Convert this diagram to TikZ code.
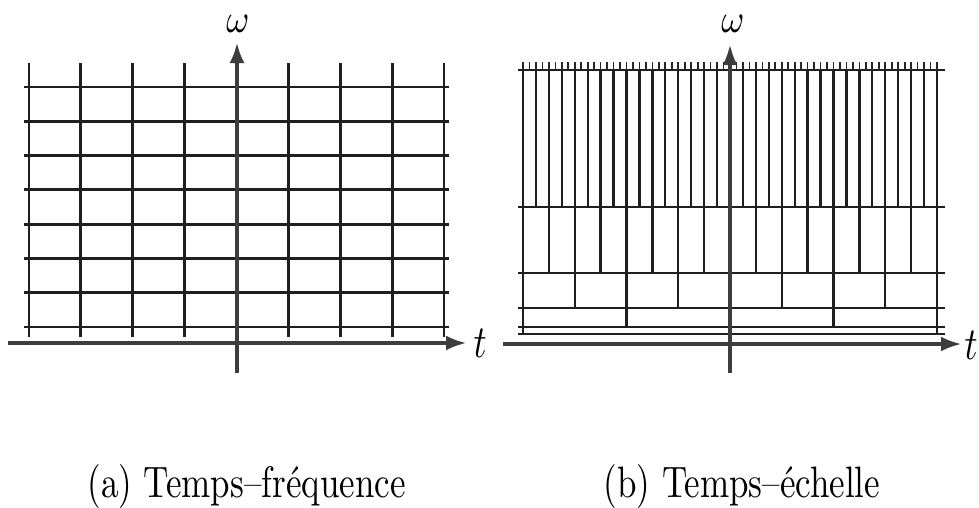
\documentclass[tikz,border=0pt]{standalone}
\usepackage{fontspec}
\usepackage{graphicx}
\usetikzlibrary{arrows.meta}
\begin{document}
\begin{tikzpicture}[x=1pt,y=-1pt,
  gridline/.style={line width=2.8pt, draw=black!88},
  thinline/.style={line width=2.3pt, draw=black!88},
  tickline/.style={line width=1.7pt, draw=black!85},
  axisline/.style={line width=4.6pt, draw=black!76, -{Latex[length=21pt,width=15pt]}},
  lbl/.style={inner sep=0pt, outer sep=0pt},
]
\useasboundingbox (0,0) rectangle (979,507);
% ---------- (a) time-frequency grid ----------
\foreach \k in {0,...,8}
  \draw[gridline] ({29+\k*51.875},63) -- ({29+\k*51.875},337);
\foreach \k in {0,...,7}
  \draw[gridline] (24,{87+\k*34.286}) -- (449,{87+\k*34.286});
\coordinate (ta0) at (8,343);
\coordinate (ta1) at (467,343);
\coordinate (wa0) at (237,373);
\coordinate (wa1) at (237,42);
\draw[axisline] (ta0) -- (ta1);
\draw[axisline] (wa0) -- (wa1);
\node[lbl] (wA) at (238,24) {\scalebox{3.5}[4.0]{$\omega$}};
\node[lbl] (tA) at (480,343) {\scalebox{3.6}[4.6]{$t$}};
\node[lbl, anchor=base] (capA) at (246.5,497)
  {\scalebox{3.5}[4.4]{(a) Temps–fréquence}};
% ---------- (b) time-scale tiling ----------
\foreach \y in {70,207,273,308,327,334}
  \draw[gridline] (518,\y) -- (945,\y);
\draw[gridline] (523,70) -- (523,334);
\draw[gridline] (937,70) -- (937,334);
\foreach \k in {1,...,31}
  \draw[thinline] ({523+\k*12.9375},70) -- ({523+\k*12.9375},207);
\foreach \k in {1,...,15}
  \draw[thinline] ({523+\k*25.875},207) -- ({523+\k*25.875},273);
\foreach \k in {1,...,7}
  \draw[thinline] ({523+\k*51.75},273) -- ({523+\k*51.75},308);
\foreach \k in {1,...,3}
  \draw[thinline] ({523+\k*103.5},308) -- ({523+\k*103.5},327);
\foreach \k in {0,...,64}
  \draw[tickline] ({523+\k*6.46875},62) -- ({523+\k*6.46875},70);
\coordinate (tb0) at (503,344);
\coordinate (tb1) at (962,344);
\coordinate (wb0) at (730,373);
\coordinate (wb1) at (730,44);
\draw[axisline] (tb0) -- (tb1);
\draw[axisline] (wb0) -- (wb1);
\node[lbl] (wB) at (733,24) {\scalebox{3.5}[4.0]{$\omega$}};
\node[lbl] (tB) at (971,345) {\scalebox{3.6}[4.6]{$t$}};
\node[lbl, anchor=base] (capB) at (742,497)
  {\scalebox{3.5}[4.4]{(b) Temps–échelle}};
\end{tikzpicture}
\end{document}
